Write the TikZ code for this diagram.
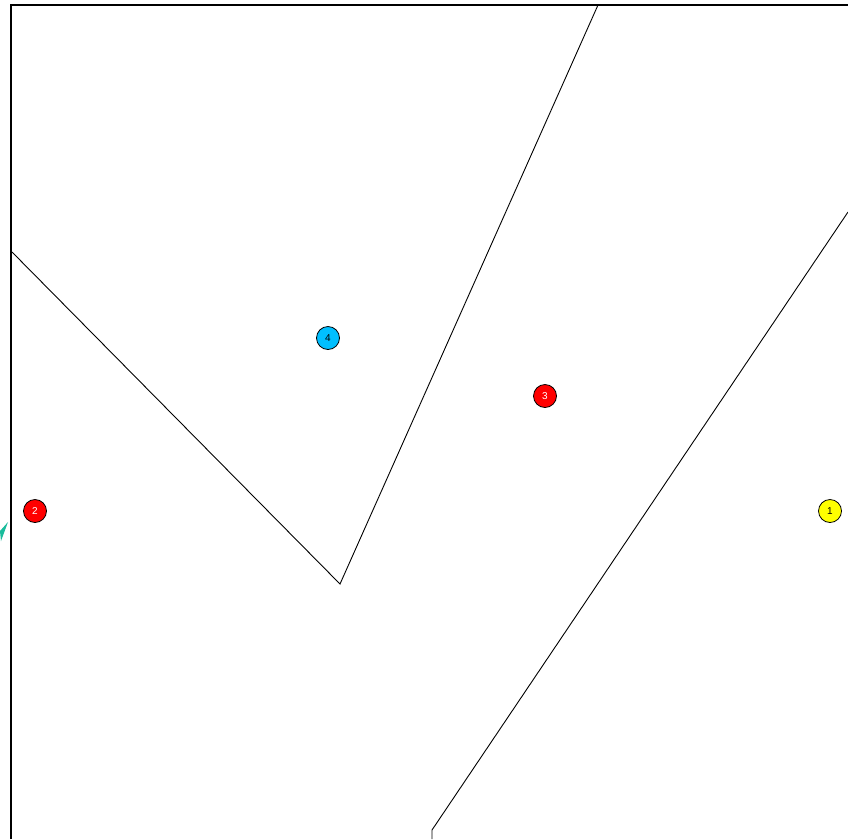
\documentclass[tikz,border=0pt]{standalone}
\usepackage{tikz}
\usetikzlibrary{calc}
\usepackage{fontspec}
\setmainfont{Liberation Sans}

\definecolor{marker red}{RGB}{255,0,0}
\definecolor{marker cyan}{RGB}{0,191,255}
\definecolor{marker yellow}{RGB}{255,255,0}
\definecolor{marker teal}{RGB}{26,188,156}

\begin{document}
\begin{tikzpicture}[
    x=1pt, y=-1pt,
    marker/.style = {circle, draw=black, line width=0.8pt, minimum size=23pt,
                     inner sep=0pt, font=\fontsize{10}{10}\selectfont},
    edge/.style   = {line width=0.9pt, black},
  ]

  % ---------- canvas ----------
  \useasboundingbox (0,0) rectangle (848,839);
  \fill[white] (0,0) rectangle (848,839);

  % ---------- key points ----------
  \coordinate (TL) at (11,5);
  \coordinate (TR) at (848,5);
  \coordinate (BL) at (11,839);
  \coordinate (P1) at (12,252);
  \coordinate (P2) at (340,584);
  \coordinate (P3) at (598,5);
  \coordinate (Q1) at (848,212);
  \coordinate (Q2) at (432,830);
  \coordinate (Q3) at (432,839);

  % ---------- frame ----------
  \draw[line width=2pt] (BL) -- (TL) -- (TR);

  % ---------- boundary lines ----------
  \draw[edge] (P1) -- (P2) -- (P3);
  \draw[edge] (Q1) -- (Q2) -- (Q3);

  % ---------- teal tip at the left edge ----------
  \fill[marker teal] (0,531) -- (8,522) -- (1,541) -- cycle;

  % ---------- numbered markers ----------
  \node[marker, fill=marker yellow]            (m1) at (830,511) {1};
  \node[marker, fill=marker red, text=white]   (m2) at (35,511)  {2};
  \node[marker, fill=marker red, text=white]   (m3) at (545,396) {3};
  \node[marker, fill=marker cyan]              (m4) at (328,338) {4};

\end{tikzpicture}
\end{document}
